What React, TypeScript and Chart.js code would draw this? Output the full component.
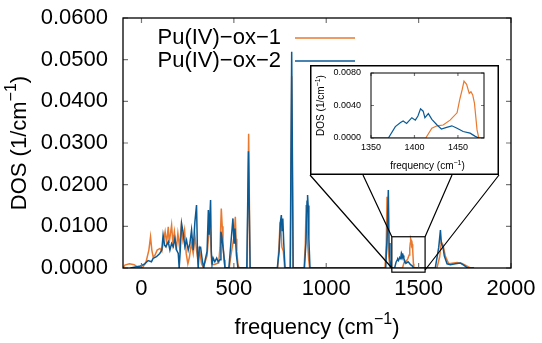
import React, { useEffect, useRef } from 'react';
import { Chart, registerables } from 'chart.js';

Chart.register(...registerables);

const SERIES_LABELS = ['Pu(IV)−ox−1', 'Pu(IV)−ox−2'];
const X_TITLE = ['frequency (cm', '−1', ')'];
const Y_TITLE = ['DOS (1/cm', '−1', ')'];

const freq1 = [-100, -90, -65, -40, -20, 5, 25, 40, 49, 56, 63, 72, 85, 100, 110, 120, 128, 136, 145, 150, 157, 163, 170, 178, 188, 197, 206, 215, 224, 233, 242, 251, 260, 270, 280, 290, 298, 306, 315, 325, 333, 345, 355, 363, 370, 375, 380, 392, 405, 418, 425, 432, 437, 441, 447, 452, 475, 484, 495, 502, 508, 512, 516, 522, 528, 572, 580, 588, 737, 745, 750, 755, 760, 768, 775, 806, 813, 820, 880, 887, 891, 895, 899, 905, 910, 1318, 1325, 1329, 1333, 1338, 1345, 1413, 1420, 1426, 1433, 1441, 1449, 1452, 1455, 1457, 1460, 1463, 1465, 1467, 1469, 1472, 1474, 1599, 1614, 1623, 1632, 1645, 1663, 1690, 1708, 1735, 1760, 1780, 1800];
const dos1 = [0, 0.0007, 0.001, 0.0008, 0.0002, 0, 0.0015, 0.0043, 0.0075, 0.0043, 0.0027, 0.003, 0.0043, 0.0047, 0.004, 0.0067, 0.0087, 0.006, 0.0099, 0.006, 0.0083, 0.0103, 0.006, 0.0087, 0.0043, 0.0083, 0.005, 0.0099, 0.0067, 0.0091, 0.0035, 0.001, 0.0027, 0.006, 0.0035, 0.0075, 0.0043, 0.0015, 0.0043, 0.001, 0.0003, 0.0015, 0.003, 0.0075, 0.012, 0.006, 0.001, 0.0008, 0.001, 0.0012, 0.005, 0.0143, 0.01, 0.006, 0.002, 0, 0, 0.003, 0.006, 0.008, 0.0123, 0.007, 0.004, 0.001, 0, 0, 0.0322, 0, 0, 0.006, 0.011, 0.009, 0.005, 0.004, 0, 0, 0.046, 0, 0, 0.006, 0.0151, 0.012, 0.006, 0.002, 0, 0, 0.006, 0.0171, 0.007, 0.003, 0, 0, 0.0012, 0.0015, 0.0016, 0.0022, 0.0031, 0.0047, 0.006, 0.007, 0.0066, 0.0055, 0.0057, 0.0053, 0.0043, 0.001, 0, 0, 0.0027, 0.0063, 0.0055, 0.0028, 0.001, 0.0012, 0.0013, 0.0011, 0.0005, 0, 0];

const freq2 = [-60, -5, 18, 36, 54, 63, 81, 99, 110, 117, 125, 132, 145, 154, 163, 172, 181, 190, 199, 204, 210, 217, 226, 235, 244, 253, 262, 271, 280, 289, 298, 303, 307, 313, 320, 330, 337, 345, 355, 362, 366, 374, 378, 382, 388, 397, 407, 415, 425, 430, 435, 441, 446, 452, 473, 484, 495, 501, 506, 514, 522, 570, 579, 588, 735, 745, 752, 757, 761, 765, 770, 777, 805, 813, 821, 882, 890, 896, 899, 902, 906, 912, 1322, 1330, 1336, 1340, 1345, 1350, 1370, 1378, 1384, 1387, 1391, 1397, 1401, 1404, 1407, 1410, 1412, 1416, 1420, 1426, 1431, 1437, 1443, 1449, 1456, 1464, 1470, 1474, 1590, 1609, 1618, 1623, 1632, 1639, 1654, 1672, 1699, 1726, 1744, 1766, 1800];
const dos2 = [0, 0.0005, 0.001, 0.0018, 0.0015, 0.0023, 0.0027, 0.0035, 0.0043, 0.0079, 0.0055, 0.0051, 0.0063, 0.0043, 0.0059, 0.0051, 0.0071, 0.0043, 0.0035, 0, 0.0043, 0.0107, 0.0083, 0.0051, 0.0067, 0.0043, 0.0059, 0.0091, 0.0043, 0.011, 0.0151, 0.004, 0, 0.005, 0.005, 0.0016, 0, 0.002, 0.004, 0.0139, 0.008, 0.0163, 0.004, 0.0008, 0.0024, 0.0015, 0.0024, 0.0015, 0.002, 0.0087, 0.0075, 0.005, 0.003, 0, 0, 0.006, 0.0119, 0.006, 0.0095, 0.003, 0, 0, 0.028, 0, 0, 0.004, 0.011, 0.0127, 0.009, 0.0119, 0.006, 0, 0, 0.0519, 0, 0, 0.006, 0.016, 0.0175, 0.015, 0.007, 0, 0, 0.008, 0.0187, 0.006, 0.002, 0, 0, 0.0014, 0.0019, 0.0021, 0.0018, 0.0025, 0.0022, 0.0027, 0.0036, 0.0033, 0.0025, 0.003, 0.0023, 0.0016, 0.0011, 0.0013, 0.0015, 0.0012, 0.0008, 0.0006, 0.0002, 0, 0, 0.005, 0.0091, 0.0059, 0.005, 0.0029, 0.001, 0.0008, 0.001, 0.0012, 0.0007, 0, 0];

const mainXTicks = [0, 500, 1000, 1500, 2000];
const mainYTicks = [0, 0.01, 0.02, 0.03, 0.04, 0.05, 0.06];
const insetXTicks = [1350, 1400, 1450];
const insetYTicks = [0, 0.004, 0.008];
const mainXRange = [-100, 2000];
const mainYRange = [0, 0.06];
const insetXRange = [1350, 1480];
const insetYRange = [0, 0.008];
const zoomXRange = [1355, 1535];
const zoomYRange = [-0.001, 0.0075];

const ORANGE = '#e8792f';
const BLUE = '#0a5a96';
const FONT = '"Liberation Sans", Arial, Helvetica, sans-serif';
const INSET = { left: 310, top: 65, width: 189, height: 110 };

function toPoints(xs: number[], ys: number[]) {
  return xs.map((x, i) => ({ x, y: ys[i] }));
}

function drawSupText(ctx: CanvasRenderingContext2D, parts: string[], size: number, cx: number, cy: number, rotate: boolean) {
  ctx.save();
  ctx.translate(cx, cy);
  if (rotate) ctx.rotate(-Math.PI / 2);
  const f1 = `${size}px ${FONT}`;
  const f2 = `${Math.round(size * 0.72)}px ${FONT}`;
  ctx.font = f1;
  const w1 = ctx.measureText(parts[0]).width;
  const w3 = ctx.measureText(parts[2]).width;
  ctx.font = f2;
  const w2 = ctx.measureText(parts[1]).width;
  let x = -(w1 + w2 + w3) / 2;
  ctx.fillStyle = '#000';
  ctx.textAlign = 'left';
  ctx.textBaseline = 'middle';
  ctx.font = f1;
  ctx.fillText(parts[0], x, 0);
  x += w1;
  ctx.font = f2;
  ctx.fillText(parts[1], x, -size * 0.38);
  x += w2;
  ctx.font = f1;
  ctx.fillText(parts[2], x, 0);
  ctx.restore();
}

function framePlugin(tickLen: number, borderWidth: number) {
  return {
    id: 'frame',
    afterDatasetsDraw(chart: any) {
      const { ctx, chartArea: a, scales } = chart;
      ctx.save();
      ctx.strokeStyle = '#777';
      ctx.lineWidth = 1.2;
      ctx.beginPath();
      scales.x.ticks.forEach((t: any) => {
        const p = scales.x.getPixelForValue(t.value);
        ctx.moveTo(p, a.bottom);
        ctx.lineTo(p, a.bottom - tickLen);
        ctx.moveTo(p, a.top);
        ctx.lineTo(p, a.top + tickLen);
      });
      scales.y.ticks.forEach((t: any) => {
        const p = scales.y.getPixelForValue(t.value);
        ctx.moveTo(a.left, p);
        ctx.lineTo(a.left + tickLen, p);
        ctx.moveTo(a.right, p);
        ctx.lineTo(a.right - tickLen, p);
      });
      ctx.stroke();
      ctx.strokeStyle = '#000';
      ctx.lineWidth = borderWidth;
      ctx.strokeRect(a.left, a.top, a.right - a.left, a.bottom - a.top);
      ctx.restore();
    },
  };
}

function titlePlugin(size: number, xOffset: number, yOffset: number) {
  return {
    id: 'titles',
    afterDraw(chart: any) {
      const { ctx, chartArea: a, height } = chart;
      drawSupText(ctx, X_TITLE, size, (a.left + a.right) / 2, height - yOffset, false);
      drawSupText(ctx, Y_TITLE, size, xOffset, (a.top + a.bottom) / 2, true);
    },
  };
}

const legendPlugin = {
  id: 'gpLegend',
  afterDraw(chart: any) {
    const { ctx } = chart;
    ctx.save();
    chart.data.datasets.forEach((ds: any, i: number) => {
      const y = 38 + i * 23;
      ctx.font = `22px ${FONT}`;
      ctx.fillStyle = '#000';
      ctx.textAlign = 'right';
      ctx.textBaseline = 'middle';
      ctx.fillText(ds.label, 281, y);
      ctx.strokeStyle = ds.borderColor;
      ctx.lineWidth = 1.5;
      ctx.beginPath();
      ctx.moveTo(295, y);
      ctx.lineTo(355, y);
      ctx.stroke();
    });
    ctx.restore();
  },
};

const zoomPlugin = {
  id: 'zoomMark',
  afterDraw(chart: any) {
    const { ctx, scales } = chart;
    const rl = scales.x.getPixelForValue(zoomXRange[0]);
    const rr = scales.x.getPixelForValue(zoomXRange[1]);
    const rt = scales.y.getPixelForValue(zoomYRange[1]);
    const rb = scales.y.getPixelForValue(zoomYRange[0]);
    const y0 = scales.y.getPixelForValue(0);
    const bb = INSET.top + INSET.height;
    ctx.save();
    ctx.strokeStyle = '#000';
    ctx.lineWidth = 1.2;
    ctx.strokeRect(rl, rt, rr - rl, rb - rt);
    ctx.beginPath();
    ctx.moveTo(INSET.left, bb);
    ctx.lineTo(rl, y0);
    ctx.moveTo(INSET.left + 53, bb);
    ctx.lineTo(rl, rt);
    ctx.moveTo(INSET.left + 142, bb);
    ctx.lineTo(rr, rt);
    ctx.moveTo(INSET.left + INSET.width, bb);
    ctx.lineTo(rr, y0 + 2);
    ctx.stroke();
    ctx.restore();
  },
};

const insetBoxPlugin = {
  id: 'insetBox',
  beforeDraw(chart: any) {
    const { ctx, width, height } = chart;
    ctx.save();
    ctx.fillStyle = '#fff';
    ctx.fillRect(0, 0, width, height);
    ctx.restore();
  },
  afterDraw(chart: any) {
    const { ctx, width, height } = chart;
    ctx.save();
    ctx.strokeStyle = '#000';
    ctx.lineWidth = 1.5;
    ctx.strokeRect(0.75, 0.75, width - 1.5, height - 1.5);
    ctx.restore();
  },
};

function makeDatasets(lw: number) {
  return [
    { label: SERIES_LABELS[0], data: toPoints(freq1, dos1), borderColor: ORANGE, backgroundColor: ORANGE, borderWidth: lw, pointRadius: 0, order: 2, tension: 0 },
    { label: SERIES_LABELS[1], data: toPoints(freq2, dos2), borderColor: BLUE, backgroundColor: BLUE, borderWidth: lw, pointRadius: 0, order: 1, tension: 0 },
  ];
}

function fixX(h: number) {
  return (s: any) => { s.height = h; s.paddingLeft = 0; s.paddingRight = 0; s.paddingTop = 0; s.paddingBottom = 0; };
}
function fixY(w: number) {
  return (s: any) => { s.width = w; s.paddingLeft = 0; s.paddingRight = 0; s.paddingTop = 0; s.paddingBottom = 0; };
}

export default function App() {
  const mainRef = useRef<HTMLCanvasElement>(null);
  const insetRef = useRef<HTMLCanvasElement>(null);

  useEffect(() => {
    const main = new Chart(mainRef.current as HTMLCanvasElement, {
      type: 'line',
      data: { datasets: makeDatasets(1.5) as any },
      options: {
        animation: false,
        responsive: false,
        maintainAspectRatio: false,
        layout: { padding: { top: 18, right: 31, left: 0, bottom: 0 } },
        plugins: { legend: { display: false }, tooltip: { enabled: false } },
        scales: {
          x: {
            type: 'linear',
            min: mainXRange[0],
            max: mainXRange[1],
            afterBuildTicks: (s: any) => { s.ticks = mainXTicks.map((v) => ({ value: v })); },
            afterFit: fixX(75),
            grid: { display: false, drawTicks: false },
            border: { display: false },
            ticks: { color: '#000', font: { family: FONT, size: 22 }, padding: 8, maxRotation: 0, autoSkip: false, callback: (v: any) => String(v) },
          },
          y: {
            type: 'linear',
            min: mainYRange[0],
            max: mainYRange[1],
            afterBuildTicks: (s: any) => { s.ticks = mainYTicks.map((v) => ({ value: v })); },
            afterFit: fixY(123),
            grid: { display: false, drawTicks: false },
            border: { display: false },
            ticks: { color: '#000', font: { family: FONT, size: 22 }, padding: 15, autoSkip: false, callback: (v: any) => Number(v).toFixed(4) },
          },
        },
      } as any,
      plugins: [framePlugin(5, 1.3), titlePlugin(22, 20, 15), legendPlugin, zoomPlugin] as any,
    });

    const inset = new Chart(insetRef.current as HTMLCanvasElement, {
      type: 'line',
      data: { datasets: makeDatasets(1.2) as any },
      options: {
        animation: false,
        responsive: false,
        maintainAspectRatio: false,
        layout: { padding: { top: 8, right: 15, left: 0, bottom: 0 } },
        plugins: { legend: { display: false }, tooltip: { enabled: false } },
        scales: {
          x: {
            type: 'linear',
            min: insetXRange[0],
            max: insetXRange[1],
            afterBuildTicks: (s: any) => { s.ticks = insetXTicks.map((v) => ({ value: v })); },
            afterFit: fixX(37),
            grid: { display: false, drawTicks: false },
            border: { display: false },
            ticks: { color: '#000', font: { family: FONT, size: 9 }, padding: 4, maxRotation: 0, autoSkip: false, callback: (v: any) => String(v) },
          },
          y: {
            type: 'linear',
            min: insetYRange[0],
            max: insetYRange[1],
            afterBuildTicks: (s: any) => { s.ticks = insetYTicks.map((v) => ({ value: v })); },
            afterFit: fixY(61),
            grid: { display: false, drawTicks: false },
            border: { display: false },
            ticks: { color: '#000', font: { family: FONT, size: 9 }, padding: 10, autoSkip: false, callback: (v: any) => Number(v).toFixed(4) },
          },
        },
      } as any,
      plugins: [insetBoxPlugin, framePlugin(3, 1), titlePlugin(10, 11.7, 8.3)] as any,
    });

    return () => {
      main.destroy();
      inset.destroy();
    };
  }, []);

  return (
    <div style={{ position: 'absolute', left: 0, top: 0, width: 542, height: 343, background: '#fff' }}>
      <canvas ref={mainRef} width={542} height={343} style={{ position: 'absolute', left: 0, top: 0, display: 'block' }} />
      <canvas
        ref={insetRef}
        width={INSET.width}
        height={INSET.height}
        style={{ position: 'absolute', left: INSET.left, top: INSET.top, display: 'block' }}
      />
    </div>
  );
}
